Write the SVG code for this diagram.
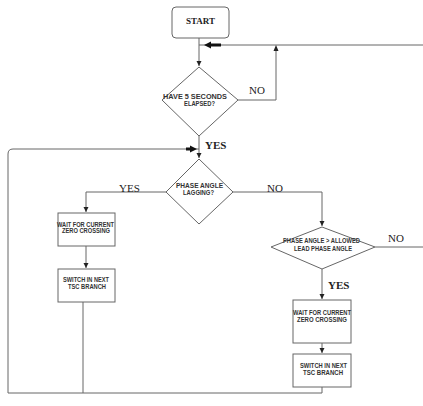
<svg xmlns="http://www.w3.org/2000/svg" width="423" height="406" viewBox="0 0 423 406">
<style>
.shape{fill:#fff;stroke:#666;stroke-width:1}
.ln{fill:none;stroke:#666;stroke-width:1}
.t{font-family:"Liberation Sans",Arial,sans-serif;font-weight:bold;font-size:7px;fill:#333;text-anchor:middle}
.lbl{font-family:"Liberation Serif","Times New Roman",serif;font-size:11px;fill:#222}
.st{font-family:"Liberation Serif","Times New Roman",serif;font-weight:bold;font-size:9px;fill:#222;text-anchor:middle}
</style>
<defs>
<marker id="ah" markerWidth="6" markerHeight="6" refX="5" refY="3" orient="auto" markerUnits="userSpaceOnUse">
<path d="M0,0.5 L5,3 L0,5.5 Z" fill="#222"/>
</marker>
</defs>
<rect width="423" height="406" fill="#fff"/>
<g id="connectors">
<path class="ln" d="M199,38 V66" marker-end="url(#ah)"/>
<path class="ln" d="M199,45 H423"/>
<path class="ln" d="M238,100 H276 V47"/>
<path d="M276,45 L278.5,51 H273.5 Z" fill="#222"/>
<path d="M204,45 L211,41.5 V43.5 H221 V46.5 H211 V48.5 Z" fill="#111"/>
<path class="ln" d="M199,136 V158" marker-end="url(#ah)"/>
<path class="ln" d="M83,302 V393 M8,393 H322 V387 M8,393 V154 Q8,149 13,149 H199"/>
<path d="M197,149 L190,145.5 V147.5 H186 V150.5 H190 V152.5 Z" fill="#111"/>
<path class="ln" d="M166,192 H86 V212" marker-end="url(#ah)"/>
<path class="ln" d="M86,246 V268" marker-end="url(#ah)"/>
<path class="ln" d="M233,192 H322 V226" marker-end="url(#ah)"/>
<path class="ln" d="M375,247 H423"/>
<path class="ln" d="M322,269 V299" marker-end="url(#ah)"/>
<path class="ln" d="M322,343 V353" marker-end="url(#ah)"/>
<text class="lbl" x="249" y="94">NO</text>
<text class="lbl" x="205" y="149" font-weight="bold">YES</text>
<text class="lbl" x="119" y="192">YES</text>
<text class="lbl" x="267" y="192">NO</text>
<text class="lbl" x="388" y="242">NO</text>
<text class="lbl" x="328" y="289" font-weight="bold">YES</text>
</g>
<g id="start">
<rect class="shape" x="172" y="7" width="57" height="31" rx="4"/>
<text class="st" x="200.5" y="24">START</text>
</g>
<g id="elapsed">
<polygon class="shape" points="199,67 238,100 199,136 162,100"/>
<text class="t" x="195" y="99" textLength="64" lengthAdjust="spacingAndGlyphs">HAVE 5 SECONDS</text>
<text class="t" x="199.5" y="105.5" textLength="31" lengthAdjust="spacingAndGlyphs">ELAPSED?</text>
</g>
<g id="lagging">
<polygon class="shape" points="199,159 233,192 199,224 166,192"/>
<text class="t" x="199.5" y="187.5" textLength="47" lengthAdjust="spacingAndGlyphs">PHASE ANGLE</text>
<text class="t" x="198.5" y="195" textLength="31" lengthAdjust="spacingAndGlyphs">LAGGING?</text>
</g>
<g id="wait1">
<rect class="shape" x="58" y="213" width="57" height="33"/>
<text class="t" x="85.5" y="227" textLength="57" lengthAdjust="spacingAndGlyphs">WAIT FOR CURRENT</text>
<text class="t" x="86" y="233" textLength="48" lengthAdjust="spacingAndGlyphs">ZERO CROSSING</text>
</g>
<g id="switch1">
<rect class="shape" x="58" y="269" width="57" height="33"/>
<text class="t" x="86" y="282" textLength="46" lengthAdjust="spacingAndGlyphs">SWITCH IN NEXT</text>
<text class="t" x="87" y="289" textLength="38" lengthAdjust="spacingAndGlyphs">TSC BRANCH</text>
</g>
<g id="lead">
<polygon class="shape" points="322,227 375,247 322,269 271,247"/>
<text class="t" x="321.5" y="243" textLength="77" lengthAdjust="spacingAndGlyphs">PHASE ANGLE &gt; ALLOWED</text>
<text class="t" x="323" y="250.5" textLength="58" lengthAdjust="spacingAndGlyphs">LEAD PHASE ANGLE</text>
</g>
<g id="wait2">
<rect class="shape" x="293" y="300" width="58" height="43"/>
<text class="t" x="322" y="315" textLength="58" lengthAdjust="spacingAndGlyphs">WAIT FOR CURRENT</text>
<text class="t" x="322" y="322" textLength="50" lengthAdjust="spacingAndGlyphs">ZERO CROSSING</text>
</g>
<g id="switch2">
<rect class="shape" x="293" y="354" width="58" height="33"/>
<text class="t" x="323.5" y="368" textLength="47" lengthAdjust="spacingAndGlyphs">SWITCH IN NEXT</text>
<text class="t" x="323" y="375" textLength="40" lengthAdjust="spacingAndGlyphs">TSC BRANCH</text>
</g>
</svg>
